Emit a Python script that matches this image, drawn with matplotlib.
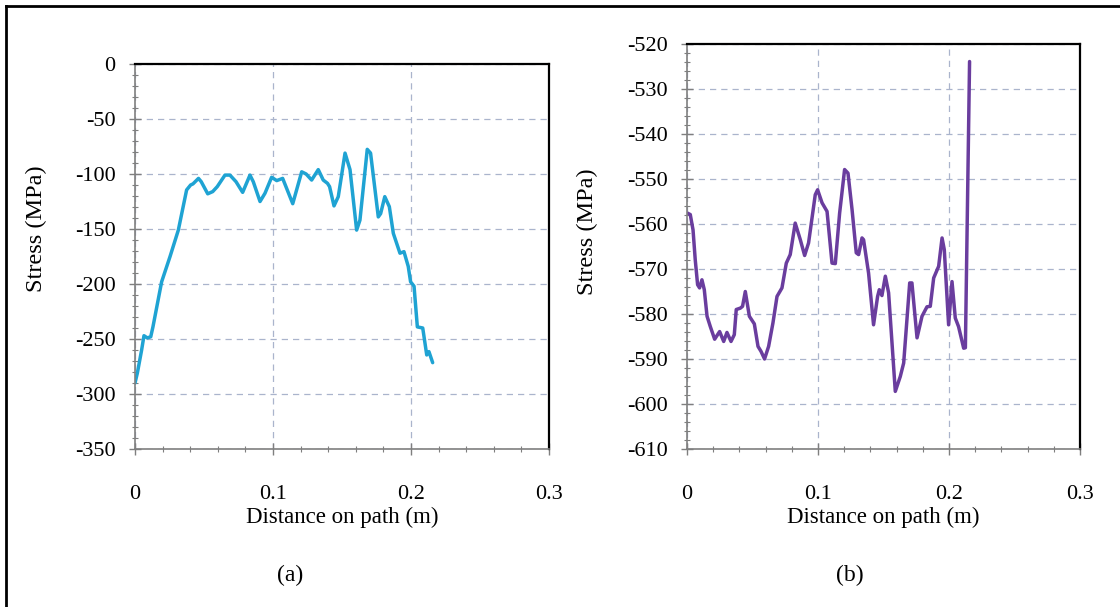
import matplotlib
matplotlib.use("Agg")
import matplotlib.pyplot as plt
from matplotlib.ticker import AutoMinorLocator
from matplotlib.lines import Line2D

# Panel (a) data
dist_a = [0.0, 0.0017, 0.0048, 0.0065, 0.0089, 0.0114, 0.013, 0.0193, 0.0254, 0.0314,
          0.0374, 0.0403, 0.042, 0.046, 0.048, 0.0527, 0.0563, 0.0596, 0.0652, 0.0688,
          0.0732, 0.078, 0.0833, 0.0857, 0.0906, 0.0942, 0.099, 0.1027, 0.107, 0.1143,
          0.1208, 0.124, 0.128, 0.1328, 0.1364, 0.1395, 0.141, 0.1442, 0.1473, 0.1522,
          0.1558, 0.1606, 0.163, 0.1683, 0.1707, 0.1763, 0.178, 0.181, 0.1843, 0.1872,
          0.192, 0.1949, 0.198, 0.1997, 0.2022, 0.2046, 0.2085, 0.2114, 0.213, 0.2157]
stress_a = [-290, -281, -260, -247, -249, -248, -239, -198, -175, -151,
            -114.5, -110, -109, -104, -107, -118, -116, -111.5, -101, -101,
            -107, -116.7, -101, -107, -125, -117.5, -103, -106, -104, -127,
            -98, -100, -105.5, -96, -105.5, -108.5, -111.5, -129, -120.6, -81,
            -96, -151, -142, -77.6, -81, -139, -136, -120.6, -129.7, -154,
            -172, -170.6, -184, -198, -202, -239, -240, -264.5, -261.5, -271.5]

# Panel (b) data
dist_b = [0.0005, 0.0025, 0.0046, 0.0063, 0.0081, 0.0096, 0.0114, 0.0132, 0.0153, 0.0178,
          0.0211, 0.0249, 0.028, 0.0305, 0.0336, 0.0361, 0.0376, 0.0407, 0.0424, 0.0445,
          0.0476, 0.0514, 0.0542, 0.0565, 0.0592, 0.0623, 0.0656, 0.0687, 0.0725, 0.0758,
          0.0788, 0.0826, 0.0865, 0.0898, 0.0928, 0.0979, 0.0997, 0.1031, 0.1069, 0.1107,
          0.1132, 0.1165, 0.1203, 0.1229, 0.126, 0.1292, 0.131, 0.1336, 0.1348, 0.1386,
          0.1424, 0.1455, 0.1468, 0.1488, 0.1514, 0.1539, 0.159, 0.1628, 0.1654, 0.17,
          0.1717, 0.1756, 0.1794, 0.1832, 0.1857, 0.1883, 0.1921, 0.1947, 0.1964, 0.1997,
          0.2023, 0.2048, 0.2073, 0.2112, 0.2125, 0.2157]
stress_b = [-557.6, -557.9, -561.3, -568, -573.5, -574.2, -572.4, -574.6, -580.5, -582.8,
            -585.6, -583.9, -586.1, -584.1, -586.1, -584.6, -579, -578.7, -578.3, -575,
            -580.5, -582.2, -587.2, -588.3, -590, -587.2, -582, -576.1, -574.2, -568.7,
            -566.8, -559.8, -563.5, -567, -564.2, -553.5, -552.4, -555.3, -557.2, -568.7,
            -568.8, -557.6, -547.9, -548.7, -556.8, -566.4, -566.8, -563.1, -563.5, -570.9,
            -582.4, -576.1, -574.6, -575.9, -571.6, -575.3, -597.2, -593.9, -590.9, -573.1,
            -573.1, -585.3, -580.5, -578.4, -578.3, -572, -569.4, -563.1, -565.7, -582.4,
            -572.8, -580.9, -582.8, -587.6, -587.5, -523.9]

x_ticks = [0, 0.1, 0.2, 0.3]
x_tick_labels = ["0", "0.1", "0.2", "0.3"]
y_ticks_a = [0, -50, -100, -150, -200, -250, -300, -350]
y_ticks_b = [-520, -530, -540, -550, -560, -570, -580, -590, -600, -610]

plt.rcParams['font.family'] = ['Liberation Serif', 'DejaVu Serif']

fig = plt.figure(figsize=(11.2, 6.07), dpi=100)
W, H = 1120, 607

def ax_rect(x0, x1, y0, y1):
    return [x0 / W, 1 - y1 / H, (x1 - x0) / W, (y1 - y0) / H]

ax_a = fig.add_axes(ax_rect(135, 549, 64, 449))
ax_b = fig.add_axes(ax_rect(687, 1080, 44, 449))

grid_color = '#aab4cc'

def style(ax, yticks, ymin, ymax, ylabel_x, ylabel_y):
    ax.set_xlim(0, 0.3)
    ax.set_ylim(ymin, ymax)
    ax.set_xticks(x_ticks)
    ax.set_xticklabels(x_tick_labels)
    ax.set_yticks(yticks)
    ax.set_yticklabels([str(v) for v in yticks])
    ax.xaxis.set_minor_locator(AutoMinorLocator(5))
    ax.yaxis.set_minor_locator(AutoMinorLocator(5))
    ax.grid(True, which='major', color=grid_color, linestyle=(0, (5, 4)), linewidth=0.9)
    ax.set_axisbelow(True)
    for side in ('left', 'bottom'):
        ax.spines[side].set_color('#7f7f7f')
        ax.spines[side].set_linewidth(1.2)
    for side in ('top', 'right'):
        ax.spines[side].set_color('black')
        ax.spines[side].set_linewidth(1.6)
    ax.tick_params(axis='both', which='major', direction='inout', length=8,
                   width=1.0, color='#7f7f7f', labelsize=16)
    ax.tick_params(axis='both', which='minor', direction='inout', length=5,
                   width=0.8, color='#7f7f7f')
    ax.tick_params(axis='x', which='major', pad=22)
    ax.tick_params(axis='y', which='major', pad=10)
    ax.set_xlabel('Distance on path (m)', fontsize=16.5, labelpad=2)
    ax.set_ylabel('Stress (MPa)', fontsize=17.5)
    ax.yaxis.set_label_coords(ylabel_x, ylabel_y, transform=fig.transFigure)

style(ax_a, y_ticks_a, -350, 0, 47 / W, 1 - 229 / H)
style(ax_b, y_ticks_b, -610, -520, 598 / W, 1 - 232 / H)

ax_a.plot(dist_a, stress_a, color='#1fa3d3', linewidth=2.5,
          solid_joinstyle='round', solid_capstyle='round')
ax_b.plot(dist_b, stress_b, color='#6a3d9e', linewidth=2.5,
          solid_joinstyle='round', solid_capstyle='round')

fig.text(290 / W, 1 - 575 / H, '(a)', fontsize=17, ha='center', va='center')
fig.text(850 / W, 1 - 575 / H, '(b)', fontsize=17, ha='center', va='center')

# outer frame (left and top edges visible)
fig.add_artist(Line2D([6 / W, 6 / W], [0, 1 - 6 / H], color='black', linewidth=2,
                      transform=fig.transFigure))
fig.add_artist(Line2D([6 / W, 1], [1 - 6 / H, 1 - 6 / H], color='black', linewidth=2,
                      transform=fig.transFigure))

fig.savefig('out.png', dpi=100)
